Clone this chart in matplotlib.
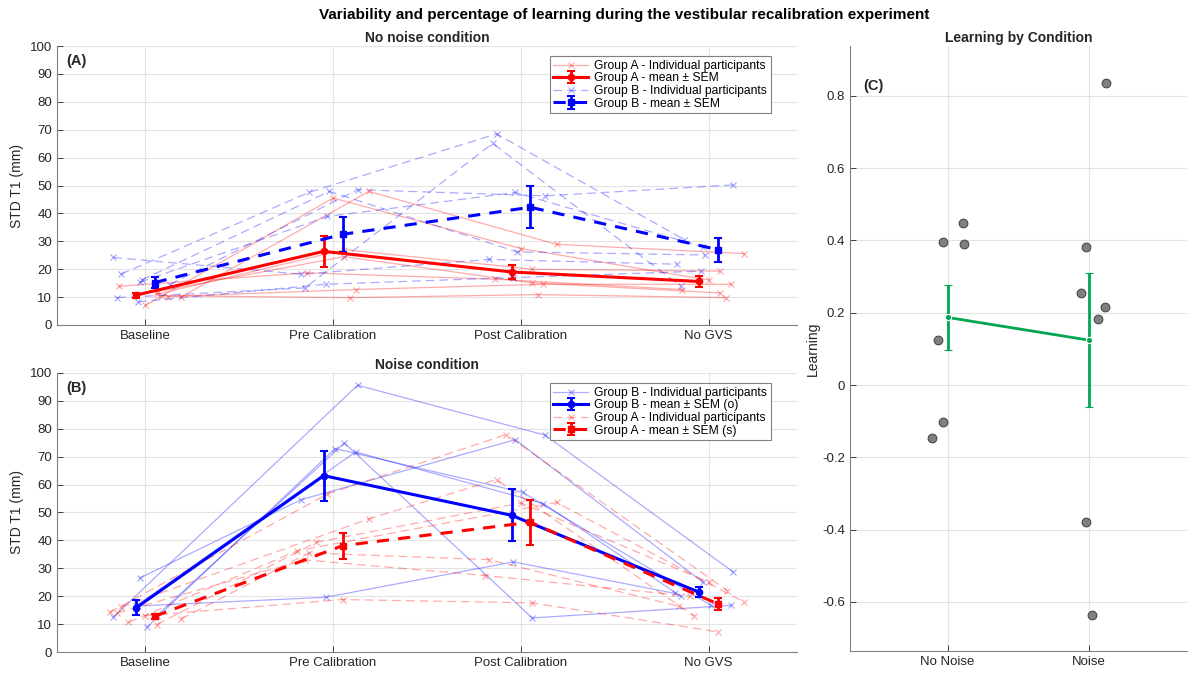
import numpy as np
import matplotlib.pyplot as plt

plt.rcParams['font.family'] = ['Liberation Sans', 'DejaVu Sans']

conditions = ['Baseline', 'Pre Calibration', 'Post Calibration', 'No GVS']

# panel A - no noise
noA_vals = [[13.9, 18.7, 16.4, 12.7], [7.0, 45.5, 27.4, 16.1], [10.0, 47.9, 28.9, 25.6],
            [11.0, 27.0, 20.0, 19.3], [12.0, 24.5, 15.1, 11.5], [10.2, 12.7, 14.6, 14.6],
            [10.5, 9.8, 10.9, 9.8]]
noA_jit = [-0.14, 0.0, 0.19, 0.06, 0.06, 0.12, 0.09]
noB_vals = [[24.2, 18.2, 23.5, 21.8], [9.8, 13.3, 65.1, 14.0], [18.2, 47.5, 68.5, 30.6],
            [16.1, 47.9, 26.2, 25.1], [15.3, 38.9, 47.5, 28.0], [14.5, 48.5, 46.3, 50.2],
            [8.3, 14.6, 17.0, 19.3]]
noB_jit = [-0.17, -0.15, -0.13, -0.02, -0.03, 0.13, -0.04]
noA_mean = [10.7, 26.4, 19.0, 15.6]
noA_sem = [0.9, 5.6, 2.4, 2.1]
noB_mean = [15.2, 32.5, 42.2, 27.0]
noB_sem = [2.0, 6.2, 7.6, 4.3]

# panel B - noise
nB_vals = [[12.5, 95.6, 77.7, 28.7], [9.0, 72.9, 57.2, 16.8], [13.0, 74.9, 12.2, 16.7],
           [16.5, 71.7, 53.2, 20.0], [26.5, 54.6, 76.1, 25.0], [16.5, 19.6, 32.3, 21.0]]
nB_jit = [[-0.17, 0.13, 0.13, 0.13], [0.01, 0.01, 0.01, 0.01], [0.06, 0.06, 0.06, 0.12],
          [-0.05, 0.12, 0.12, -0.15], [-0.03, -0.17, -0.03, -0.03], [-0.04, -0.04, -0.04, -0.18]]
nA_vals = [[14.2, 56.6, 77.9, 22.0], [16.1, 47.7, 61.8, 13.0], [10.6, 36.3, 53.6, 17.8],
           [9.8, 39.3, 53.4, 25.0], [11.8, 35.5, 33.1, 16.4], [13.0, 18.8, 17.6, 7.2],
           [14.0, 33.0, 27.4, 20.0]]
nA_jit = [[-0.19, -0.03, -0.08, 0.10], [-0.13, 0.19, -0.13, -0.08], [-0.09, -0.19, 0.19, 0.19],
          [0.06, -0.09, 0.0, 0.0], [0.19, -0.13, -0.17, -0.16], [0.0, 0.05, 0.06, 0.05],
          [-0.15, -0.15, -0.19, -0.10]]
nB_mean = [15.8, 63.2, 49.0, 21.4]
nB_sem = [2.7, 9.0, 9.3, 1.8]
nA_mean = [12.8, 38.1, 46.5, 17.2]
nA_sem = [0.9, 4.6, 8.1, 2.3]

# panel C - learning
c_labels = ['No Noise', 'Noise']
c_nonoise = [0.449, 0.395, 0.390, 0.125, -0.101, -0.147]
c_nonoise_x = [1.106, 0.965, 1.116, 0.93, 0.97, 0.89]
c_noise = [0.836, 0.381, 0.254, 0.217, 0.183, -0.380, -0.636]
c_noise_x = [2.12, 1.98, 1.945, 2.11, 2.06, 1.98, 2.02]
c_mean = [0.187, 0.124]
c_sem = [0.090, 0.185]

TXT = '#262626'
GRID = '#e3e3e3'
RED = '#ff0000'
BLUE = '#0000ff'
GREEN = '#00a651'

fig = plt.figure(figsize=(12.01, 6.73), dpi=100)
axA = fig.add_axes([0.0475, 0.5171, 0.6161, 0.4145])
axB = fig.add_axes([0.0475, 0.0312, 0.6161, 0.4146])
axC = fig.add_axes([0.7077, 0.0327, 0.2806, 0.8989])


def style(ax):
    for s in ['top', 'right']:
        ax.spines[s].set_visible(False)
    for s in ['left', 'bottom']:
        ax.spines[s].set_color('#808080')
    ax.tick_params(direction='in', colors=TXT, labelsize=9.5, length=4, width=0.6)
    ax.grid(True, color=GRID, lw=0.8)
    ax.set_axisbelow(True)


x = np.arange(1, 5)


def indiv(ax, vals, jit, color, ls, label):
    first = None
    for i, v in enumerate(vals):
        j = np.array(jit[i]) if np.ndim(jit[i]) else np.full(4, jit[i])
        h, = ax.plot(x + j, v, ls=ls, color=color, alpha=0.33, lw=0.9,
                     marker='x', ms=4.5, mew=0.9,
                     label=label if i == 0 else None)
        if ls == '--':
            h.set_dashes((7, 4))
        if first is None:
            first = h
    return first


def meanbar(ax, mean, sem, off, color, ls, mk, label):
    return ax.errorbar(x + off, mean, yerr=sem, color=color, ls=ls, lw=2.2,
                       marker=mk, ms=4.5, capsize=3, elinewidth=2, capthick=1.5,
                       label=label, zorder=5)


def panel_legend(ax, handles):
    leg = ax.legend(handles=handles, loc='upper right', fontsize=8.7,
                    fancybox=False, edgecolor='#808080', framealpha=1, borderpad=0.3,
                    labelspacing=0.05, handlelength=2.9, handletextpad=0.5,
                    bbox_to_anchor=(0.973, 0.985))
    leg.get_frame().set_linewidth(0.8)


# A
style(axA)
h1 = indiv(axA, noA_vals, noA_jit, RED, '-', 'Group A - Individual participants')
h2 = meanbar(axA, noA_mean, noA_sem, -0.05, RED, '-', 'o', 'Group A - mean ± SEM')
h3 = indiv(axA, noB_vals, noB_jit, BLUE, '--', 'Group B - Individual participants')
h4 = meanbar(axA, noB_mean, noB_sem, 0.05, BLUE, '--', 's', 'Group B - mean ± SEM')
h4[0].set_dashes((4, 3))
axA.set_xlim(0.53, 4.47)
axA.set_ylim(0, 100)
axA.set_yticks(range(0, 101, 10))
axA.set_xticks(x)
axA.set_xticklabels(conditions)
axA.set_ylabel('STD T1 (mm)', fontsize=10, color=TXT)
axA.set_title('No noise condition', fontsize=10, fontweight='bold', color=TXT, pad=3)
axA.text(0.013, 0.97, '(A)', transform=axA.transAxes, fontsize=10.5, fontweight='bold',
         va='top', color=TXT)
panel_legend(axA, [h1, h2, h3, h4])

# B
style(axB)
g1 = indiv(axB, nB_vals, nB_jit, BLUE, '-', 'Group B - Individual participants')
g2 = meanbar(axB, nB_mean, nB_sem, -0.05, BLUE, '-', 'o', 'Group B - mean ± SEM (o)')
g3 = indiv(axB, nA_vals, nA_jit, RED, '--', 'Group A - Individual participants')
g4 = meanbar(axB, nA_mean, nA_sem, 0.05, RED, '--', 's', 'Group A - mean ± SEM (s)')
g4[0].set_dashes((4, 3))
axB.set_xlim(0.53, 4.47)
axB.set_ylim(0, 100)
axB.set_yticks(range(0, 101, 10))
axB.set_xticks(x)
axB.set_xticklabels(conditions)
axB.set_ylabel('STD T1 (mm)', fontsize=10, color=TXT)
axB.set_title('Noise condition', fontsize=10, fontweight='bold', color=TXT, pad=3)
axB.text(0.013, 0.97, '(B)', transform=axB.transAxes, fontsize=10.5, fontweight='bold',
         va='top', color=TXT)
panel_legend(axB, [g1, g2, g3, g4])

# C
style(axC)
axC.scatter(c_nonoise_x, c_nonoise, s=40, color='#808080', edgecolor='#404040', lw=0.7, zorder=3)
axC.scatter(c_noise_x, c_noise, s=40, color='#808080', edgecolor='#404040', lw=0.7, zorder=3)
axC.errorbar([1, 2], c_mean, yerr=c_sem, color=GREEN, lw=2, marker='o', ms=4.5,
             mec='white', mew=0.8, capsize=3, elinewidth=2, capthick=1.5, zorder=4)
axC.set_xlim(0.31, 2.69)
axC.set_ylim(-0.736, 0.938)
axC.set_xticks([1, 2])
axC.set_xticklabels(c_labels)
axC.set_yticks([-0.6, -0.4, -0.2, 0, 0.2, 0.4, 0.6, 0.8])
axC.set_yticklabels(['-0.6', '-0.4', '-0.2', '0', '0.2', '0.4', '0.6', '0.8'])
axC.set_ylabel('Learning', fontsize=10, color=TXT, labelpad=2)
axC.set_title('Learning by Condition', fontsize=10, fontweight='bold', color=TXT, pad=3)
axC.text(0.04, 0.945, '(C)', transform=axC.transAxes, fontsize=10.5, fontweight='bold',
         va='top', color=TXT)

fig.suptitle('Variability and percentage of learning during the vestibular recalibration experiment',
             fontsize=11, fontweight='bold', color='black', y=0.988, x=0.52)

fig.savefig('out.png', dpi=100)
